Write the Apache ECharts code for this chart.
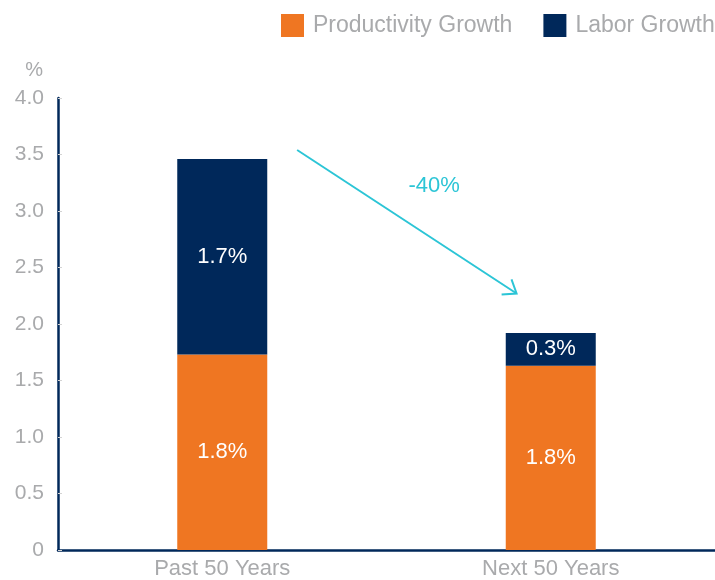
<!DOCTYPE html>
<html>
<head>
<meta charset="utf-8">
<script src="https://cdn.jsdelivr.net/npm/echarts@6/dist/echarts.min.js"></script>
<style>html,body{margin:0;padding:0;background:#fff}#c{width:715px;height:580px}</style>
</head>
<body>
<div id="c"></div>
<script>
const categories = ['Past 50 Years', 'Next 50 Years'];
const productivity = [1.73, 1.63];
const labor = [1.73, 0.29];
const productivityLabels = ['1.8%', '1.8%'];
const laborLabels = ['1.7%', '0.3%'];
const yTicks = [0, 0.5, 1.0, 1.5, 2.0, 2.5, 3.0, 3.5, 4.0];
const arrowStart = [0.228, 3.54];
const arrowEnd = [0.896, 2.27];
const arrowText = '-40%';
const arrowTextPos = [0.645, 3.22];

const FONT = '"Liberation Sans", Arial, Helvetica, sans-serif';
const GRAY = '#a9aaac';
const NAVY = '#00285a';
const ORANGE = '#ef7622';
const CYAN = '#2cc5d6';

const chart = echarts.init(document.getElementById('c'));
chart.setOption({
  animation: false,
  textStyle: { fontFamily: FONT },
  legend: {
    left: 281, top: 14, padding: 0, width: 600, orient: 'horizontal',
    itemWidth: 23, itemHeight: 23, itemGap: 31,
    icon: 'rect',
    textStyle: { color: GRAY, fontSize: 23, fontFamily: FONT, padding: [0, 0, 0, 4] },
    data: ['Productivity Growth', 'Labor Growth']
  },
  grid: { left: 58, width: 660, top: 98, bottom: 29 },
  xAxis: [{
    type: 'category',
    data: categories,
    axisLine: { lineStyle: { color: NAVY, width: 2.5 } },
    axisTick: { inside: true, length: 5, lineStyle: { color: '#d4d4d4' } },
    axisLabel: { color: GRAY, fontSize: 22, fontFamily: FONT, margin: 8 }
  }, {
    type: 'value', min: -0.5, max: 1.5, show: false
  }],
  yAxis: {
    type: 'value',
    min: yTicks[0], max: yTicks[yTicks.length - 1], interval: 0.5,
    name: '%',
    nameLocation: 'end',
    nameGap: 18,
    nameTextStyle: { color: GRAY, fontSize: 20, fontFamily: FONT, align: 'right', padding: [0, 15, 0, 0] },
    splitLine: { show: false },
    axisLine: { show: true, onZero: false, lineStyle: { color: NAVY, width: 2.5 } },
    axisTick: { show: true, inside: true, length: 4, lineStyle: { color: '#d4d4d4' } },
    axisLabel: {
      color: GRAY, fontSize: 21, fontFamily: FONT, margin: 14,
      formatter: v => (v === 0 ? '0' : v.toFixed(1))
    }
  },
  series: [{
    name: 'Productivity Growth',
    type: 'bar', stack: 'g', barWidth: 90,
    itemStyle: { color: ORANGE },
    label: {
      show: true, position: 'inside', color: '#fff', fontSize: 22, fontFamily: FONT,
      formatter: p => productivityLabels[p.dataIndex]
    },
    data: productivity
  }, {
    name: 'Labor Growth',
    type: 'bar', stack: 'g', barWidth: 90,
    itemStyle: { color: NAVY },
    label: {
      show: true, position: 'inside', color: '#fff', fontSize: 22, fontFamily: FONT,
      formatter: p => laborLabels[p.dataIndex]
    },
    data: labor
  }, {
    type: 'custom',
    xAxisIndex: 1,
    silent: true,
    encode: { x: [0, 2, 4], y: [1, 3, 5] },
    data: [[arrowStart[0], arrowStart[1], arrowEnd[0], arrowEnd[1], arrowTextPos[0], arrowTextPos[1]]],
    renderItem: function (params, api) {
      const a = api.coord([api.value(0), api.value(1)]);
      const b = api.coord([api.value(2), api.value(3)]);
      const t = api.coord([api.value(4), api.value(5)]);
      const ang = Math.atan2(b[1] - a[1], b[0] - a[0]) + Math.PI;
      const L = 15, s = 37 * Math.PI / 180;
      const h1 = [b[0] + L * Math.cos(ang - s), b[1] + L * Math.sin(ang - s)];
      const h2 = [b[0] + L * Math.cos(ang + s), b[1] + L * Math.sin(ang + s)];
      const st = { stroke: CYAN, lineWidth: 2, fill: null };
      return {
        type: 'group',
        children: [
          { type: 'line', shape: { x1: a[0], y1: a[1], x2: b[0], y2: b[1] }, style: st },
          { type: 'polyline', shape: { points: [h1, b, h2] }, style: st },
          { type: 'text', x: t[0], y: t[1], style: { text: arrowText, fill: CYAN, fontSize: 22, fontFamily: FONT, align: 'center', verticalAlign: 'middle' } }
        ]
      };
    }
  }]
});
</script>
</body>
</html>
